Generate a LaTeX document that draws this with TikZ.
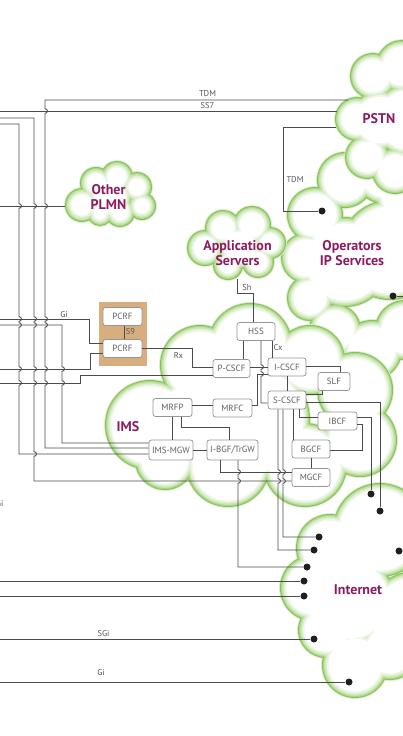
\documentclass[tikz,border=0pt]{standalone}
\usepackage{fontspec}
\setmainfont{PT Sans}
\usetikzlibrary{calc}
\definecolor{lnc}{RGB}{75,75,75}
\definecolor{boxc}{RGB}{150,150,150}
\definecolor{boxt}{RGB}{95,95,95}
\definecolor{lblc}{RGB}{85,85,85}
\definecolor{mag}{RGB}{140,28,95}
\definecolor{tanc}{RGB}{216,174,126}
\definecolor{cga}{RGB}{218,236,205}
\definecolor{cgb}{RGB}{132,194,84}
\definecolor{cgc}{RGB}{170,213,132}
\definecolor{cgd}{RGB}{198,228,172}
\definecolor{cge}{RGB}{221,239,208}
\definecolor{cgf}{RGB}{239,247,234}
\def\hv(#1,#2){-- (#1,#2-2.3) .. controls (#1+3.2,#2-2.3) and (#1+3.2,#2+2.3) .. (#1,#2+2.3)}
\newcommand\cloudshape[1]{%
  \foreach \gd/\gc in {-0.9/cga,0/cgb,0.9/cgc,2/cgd,3.4/cge,5/cgf,6.6/white}{%
    \fill[\gc] \foreach \px/\py/\pr in {#1}{(\px,\py) circle[radius={(\pr-(\gd))*1pt}]};%
  }%
}
\begin{document}
\begin{tikzpicture}[x=1pt,y=-1pt,
  ln/.style={draw=lnc,line width=0.85pt},
  box/.style={draw=boxc,fill=white,rounded corners=2.5pt,line width=0.75pt,font=\fontsize{9}{10}\selectfont,text=boxt,inner sep=0pt,minimum height=18pt},
  lbl/.style={font=\fontsize{8.5}{9}\selectfont,text=lblc,inner sep=0pt},
  cl/.style={font=\fontsize{14}{15}\selectfont\bfseries,text=mag,align=center,inner sep=0pt},
  dot/.style={circle,fill=black!88,inner sep=0pt,minimum size=7pt}]
\useasboundingbox (0,0) rectangle (403,736);
\clip (0,0) rectangle (403,736);
\fill[white] (0,0) rectangle (403,736);

% clouds
\cloudshape{315/215/28, 345/180/28, 385/172/32, 306/258/25, 310/298/23, 335/330/26, 372/350/30, 405/330/30, 390/250/50, 345/262/45, 405/195/30}
\cloudshape{373/76/23, 402/66/26, 357/119/22, 367/157/22, 395/171/23, 408/120/36, 380/120/30}
\cloudshape{82/205/17, 96/183/16, 117/177/16, 137/187/15, 142/206/14, 120/212/15, 100/213/13, 110/197/22}
\cloudshape{205/248/18, 223/228/18, 252/225/19, 270/243/16, 258/262/16, 228/265/15, 240/247/22}
\cloudshape{330/548/34, 313/588/33, 326/630/28, 355/665/33, 390/650/30, 380/530/47, 415/620/49, 350/600/45}
\cloudshape{150/425/45, 200/365/40, 250/345/42, 310/360/35, 355/390/38, 360/440/37, 305/465/42, 228/465/42, 165/460/30, 250/420/60, 190/420/40}

% PCRF group
\node[fill=tanc,inner sep=0pt,minimum width=48pt,minimum height=64pt] (pcrfbg) at (123,334) {};
\node[box,minimum width=39pt] (pcrf1) at (122.5,316.5) {PCRF};
\node[box,minimum width=39pt] (pcrf2) at (122.5,348.5) {PCRF};

% IMS boxes
\node[box,minimum width=38pt] (hss) at (256,331.5) {HSS};
\node[box,minimum width=37pt] (pcscf) at (231.5,368.5) {P-CSCF};
\node[box,minimum width=38pt] (icscf) at (287,367) {I-CSCF};
\node[box,minimum width=32pt] (slf) at (334,381.5) {SLF};
\node[box,minimum width=38pt] (scscf) at (287,400) {S-CSCF};
\node[box,minimum width=39pt] (mrfc) at (232.5,408) {MRFC};
\node[box,minimum width=39pt] (ibcf) at (337.5,421) {IBCF};
\node[box,minimum width=38pt] (bgcf) at (311,449) {BGCF};
\node[box,minimum width=38pt] (mgcf) at (311,477.5) {MGCF};
\node[box,minimum width=39pt] (mrfp) at (172.5,407.5) {MRFP};
\node[box,minimum width=44pt,minimum height=20pt] (mgw) at (171,450) {IMS-MGW};
\node[box,minimum width=51pt,minimum height=20pt] (bgf) at (232.5,450) {I-BGF/TrGW};

% dots
\node[dot] (dop1) at (322,211) {};
\node[dot] (dop2) at (393,296) {};
\node[dot] (di1) at (371,494) {};
\node[dot] (di2) at (380,511) {};
\node[dot] (di3) at (319,537) {};
\node[dot] (di4) at (314,550) {};
\node[dot] (di5) at (307,567) {};
\node[dot] (di6) at (304,581) {};
\node[dot] (di7) at (304,596) {};
\node[dot] (di8) at (314,639) {};
\node[dot] (di9) at (349,682) {};
\node[dot] (di10) at (399,551) {};

% left side network
\draw[ln] (348,100) -- (45,100) \hv(45,111) \hv(45,206) \hv(45,319) \hv(45,325) \hv(45,369) \hv(45,383) -- (45,448) -- (45,448 -| mgw.west);
\draw[ln] (0,111) -- (337,111);
\draw[ln] (0,118) -- (34,118) \hv(34,206) \hv(34,319) \hv(34,325) \hv(34,369) \hv(34,383) \hv(34,454) -- (34,481) -- (34,481 -| mgcf.west);
\draw[ln] (0,124) -- (19,124) \hv(19,206) \hv(19,319) \hv(19,325) \hv(19,369) \hv(19,383) -- (19,454) -- (19,454 -| mgw.west);
\draw[ln] (0,206) -- (65,206);
\draw[ln] (0,319) -- (89,319) -- (89,343) -- (89,343 -| pcrf2.west);
\draw[ln] (0,325) -- (62,325) \hv(62,369) \hv(62,383) -- (62,443) -- (62,443 -| mgw.west);
\draw[ln] (0,369) -- (90,369) -- (90,353) -- (90,353 -| pcrf2.west);
\draw[ln] (0,383) -- (80,383) -- (80,375) -- (80,375 -| pcscf.west);
\draw[ln] (pcrf2.east) -- (192,348.5) -- (192,367) -- (192,367 -| pcscf.west);
\draw[ln] (pcrf1.south -| 124,0) -- (pcrf2.north -| 124,0);

% PSTN / operators
\draw[ln] (336,127) -- (283,127) -- (283,211) -- (dop1);
\draw[ln] (dop2) -- (403,296);
\draw[ln] (237,279) -- (237,293) -- (253,293) -- (253,293 |- hss.north);

% IMS internal
\draw[ln] (hss.south -| 243,0) -- (pcscf.north -| 243,0);
\draw[ln] (hss.south -| 272,0) -- (icscf.north -| 272,0);
\draw[ln] (hss.south -| 261,0) \hv(261,367) \hv(261,374) -- (261,403) -- (261,403 -| scscf.west);
\draw[ln] (pcscf.east |- 0,367) -- (icscf.west |- 0,367);
\draw[ln] (mrfc.east |- 0,405) -- (257,405) -- (257,374) -- (257,374 -| icscf.west);
\draw[ln] (icscf.south) -- (scscf.north);
\draw[ln] (icscf.east |- 0,366) -- (340,366) -- (340,366 |- slf.north);
\draw[ln] (scscf.east |- 0,394) -- (322,394) -- (322,394 |- slf.south);
\draw[ln] (scscf.east |- 0,402) -- (380,402) -- (di2);
\draw[ln] (ibcf.east |- 0,417) -- (371,417) -- (di1);
\draw[ln] (ibcf.east |- 0,424) -- (362,424) -- (362,450) -- (362,450 -| bgcf.east);
\draw[ln] (scscf.south -| 278,0) \hv(278,472) \hv(278,481) -- (278,550) -- (di4);
\draw[ln] (scscf.south -| 283,0) \hv(283,472) \hv(283,481) -- (283,537) -- (di3);
\draw[ln] (scscf.south -| 293,0) -- (bgcf.north -| 293,0);
\draw[ln] (scscf.south -| 299,0) -- (299,417) -- (299,417 -| ibcf.west);
\draw[ln] (bgcf.south) -- (mgcf.north);
\draw[ln] (bgf.south -| 220,0) -- (220,472) -- (220,472 -| mgcf.west);
\draw[ln] (bgf.south -| 238,0) \hv(238,472) \hv(238,481) -- (238,567) -- (di5);
\draw[ln] (mrfp.east |- 0,405) -- (mrfc.west |- 0,405);
\draw[ln] (mrfp.south -| 172,0) -- (mgw.north -| 172,0);
\draw[ln] (mrfp.south -| 181,0) -- (181,427) -- (229,427) -- (229,427 |- bgf.north);
\draw[ln] (mgw.east) -- (bgf.west);

% bottom lines
\draw[ln] (0,581) -- (di6);
\draw[ln] (0,596) -- (di7);
\draw[ln] (0,639) -- (di8);
\draw[ln] (0,682) -- (di9);
\draw[ln] (di10) -- (403,551);

% line labels
\node[lbl] (ltdm) at (207.5,93.5) {TDM};
\node[lbl] (lss7) at (207.5,106) {SS7};
\node[lbl] (ltdm2) at (295,180) {TDM};
\node[lbl] (lgi1) at (64,314.5) {Gi};
\node[lbl] (lrx) at (178.5,355) {Rx};
\node[lbl] (ls9) at (130.5,331.5) {S9};
\node[lbl] (lsh) at (247,288) {Sh};
\node[lbl] (lcx) at (278,348) {Cx};
\node[lbl] (lsgi) at (103.5,634) {SGi};
\node[lbl] (lgi2) at (101,673) {Gi};
\node[lbl,anchor=east] (lgi3) at (3.5,503.5) {Gi};

% cloud labels
\node[cl] (tpstn) at (379,118.5) {PSTN};
\node[cl] (tops) at (352,253.5) {Operators\\IP Services};
\node[cl] (tplmn) at (108.5,197.5) {Other\\PLMN};
\node[cl] (tas) at (237.5,253) {Application\\Servers};
\node[cl] (tims) at (128,426.5) {IMS};
\node[cl] (tinet) at (358,590) {Internet};
\end{tikzpicture}
\end{document}
